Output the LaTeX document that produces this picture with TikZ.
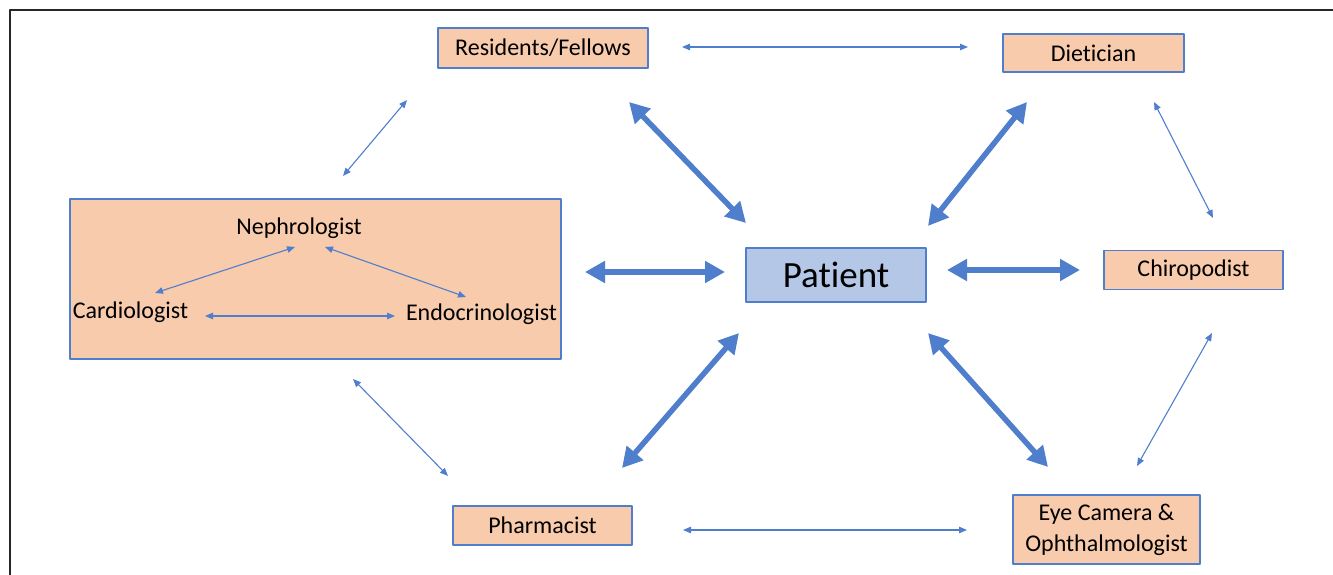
\documentclass[tikz,border=0pt]{standalone}
\usepackage{fontspec}
\setmainfont[Ligatures=NoCommon]{Carlito}
\usetikzlibrary{arrows.meta}
\definecolor{peach}{HTML}{F8CBAD}
\definecolor{boxblue}{HTML}{4F7FCC}
\definecolor{patfill}{HTML}{B4C7E7}
\definecolor{framegray}{HTML}{262626}

\begin{document}
\begin{tikzpicture}[line cap=round,line join=round,x=1pt,y=-1pt,
	role/.style={draw=boxblue,line width=1.3pt,fill=peach,inner sep=0pt,font=\fontsize{24}{31}\selectfont},
	member/.style={inner sep=0pt,font=\fontsize{24}{28}\selectfont},
	thinlink/.style={draw=boxblue,line width=1.1pt,{Triangle[length=8pt,width=6.5pt]}-{Triangle[length=8pt,width=6.5pt]}},
	thicklink/.style={draw=boxblue,line width=5.5pt,{Triangle[length=20pt,width=21pt]}-{Triangle[length=20pt,width=21pt]}}]
	\useasboundingbox (0,0) rectangle (1333,575);
	\draw [line width=2pt,color=framegray,line cap=butt] (10,575)-- (10,10)-- (1333,10);
	% boxes
	\node [role,minimum width=491,minimum height=160] (team) at (315.5,279) {};
	\node [member] (nephro) at (299,228) {Nephrologist};
	\node [member] (cardio) at (130.5,312) {Cardiologist};
	\node [member] (endo) at (481.5,314) {Endocrinologist};
	\node [role,draw=boxblue,line width=2pt,fill=patfill,minimum width=180,minimum height=54,font=\fontsize{37}{40}\selectfont] (patient) at (836,275) {Patient};
	\node [role,minimum width=210,minimum height=40] (residents) at (543,48) {Residents/Fellows};
	\node [role,minimum width=181,minimum height=38] (dietician) at (1093.5,53) {Dietician};
	\node [role,minimum width=179,minimum height=39] (chiro) at (1193.5,270) {Chiropodist};
	\node [role,minimum width=179,minimum height=39] (pharma) at (542.5,525.5) {Pharmacist};
	\node [role,minimum width=187,minimum height=69,align=center] (eye) at (1106.5,529.5) {Eye Camera \&\\Ophthalmologist};
	% arrow ends
	\coordinate (nc1) at (295,247); \coordinate (nc2) at (155,293);
	\coordinate (ne1) at (325,247); \coordinate (ne2) at (466,297);
	\coordinate (ce1) at (205,316); \coordinate (ce2) at (395,316);
	\coordinate (rd1) at (682,47); \coordinate (rd2) at (968,47);
	\coordinate (pe1) at (683,530); \coordinate (pe2) at (967,530);
	\coordinate (rt1) at (407,100); \coordinate (rt2) at (343,176);
	\coordinate (tp1) at (353,379); \coordinate (tp2) at (448,476);
	\coordinate (dc1) at (1154,102); \coordinate (dc2) at (1213,218);
	\coordinate (ce3) at (1212,333); \coordinate (ce4) at (1137,466);
	\coordinate (pr1) at (746,223); \coordinate (pr2) at (629,102);
	\coordinate (pd1) at (928,226); \coordinate (pd2) at (1027,102);
	\coordinate (pt1) at (725,272); \coordinate (pt2) at (585,272);
	\coordinate (pc1) at (947,270); \coordinate (pc2) at (1080,270);
	\coordinate (pp1) at (739,333); \coordinate (pp2) at (622,468);
	\coordinate (py1) at (928,333); \coordinate (py2) at (1048,467);
	% thin links
	\draw [thinlink] (nc1)-- (nc2);
	\draw [thinlink] (ne1)-- (ne2);
	\draw [thinlink] (ce1)-- (ce2);
	\draw [thinlink] (rd1)-- (rd2);
	\draw [thinlink] (pe1)-- (pe2);
	\draw [thinlink] (rt1)-- (rt2);
	\draw [thinlink] (tp1)-- (tp2);
	\draw [thinlink] (dc1)-- (dc2);
	\draw [thinlink] (ce3)-- (ce4);
	% thick links to the patient
	\draw [thicklink] (pr1)-- (pr2);
	\draw [thicklink] (pd1)-- (pd2);
	\draw [thicklink] (pt1)-- (pt2);
	\draw [thicklink] (pc1)-- (pc2);
	\draw [thicklink] (pp1)-- (pp2);
	\draw [thicklink] (py1)-- (py2);
\end{tikzpicture}
\end{document}
